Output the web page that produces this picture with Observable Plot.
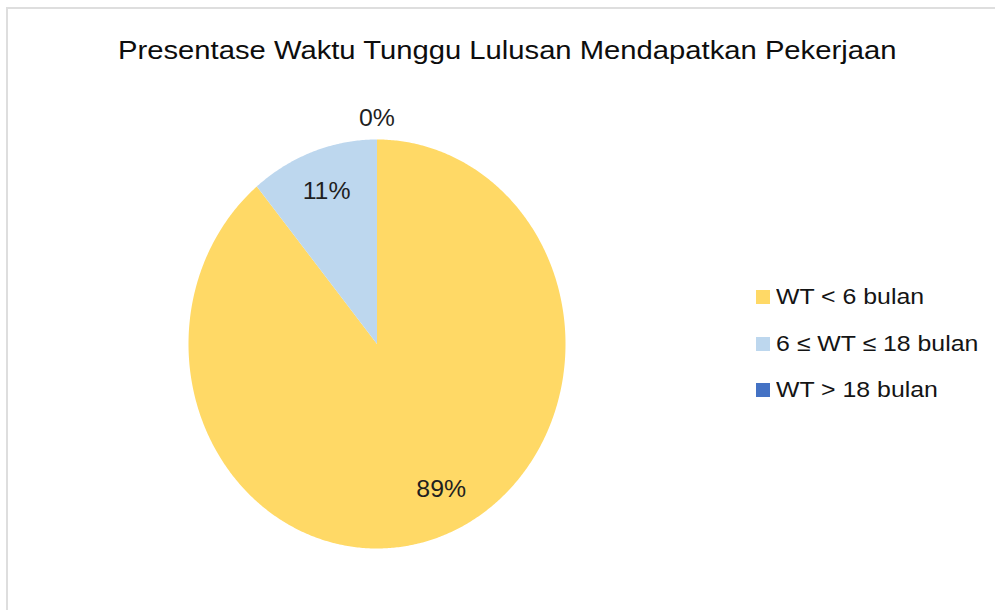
<!DOCTYPE html>
<html><head><meta charset="utf-8">
<script src="https://cdn.jsdelivr.net/npm/d3@7"></script>
<script src="https://cdn.jsdelivr.net/npm/@observablehq/plot@0.6"></script>
<style>
body{margin:0;background:#fff;}
#wrap{position:relative;width:995px;height:610px;overflow:hidden;font-family:"Liberation Sans",Arial,sans-serif;}
#frame{position:absolute;left:6px;top:7px;width:1100px;height:700px;border-top:2px solid #dedede;border-left:2px solid #dedede;}
#chart{position:absolute;left:0;top:0;}
#title{position:absolute;left:118px;top:37px;font-size:25.5px;line-height:26px;white-space:nowrap;color:#0d0d0d;transform-origin:0 0;}
.row{position:absolute;left:756px;height:14px;}
.sw{position:absolute;left:0;top:0;width:14px;height:14px;}
.lt{position:absolute;left:20px;font-size:22px;line-height:22px;top:-4px;white-space:nowrap;color:#141414;transform-origin:0 0;}
</style></head>
<body>
<div id="wrap"><div id="frame"></div><div id="chart"></div><div id="title">Presentase Waktu Tunggu Lulusan Mendapatkan Pekerjaan</div><div id="legend"></div></div>
<script>
const categories = ["WT < 6 bulan", "6 ≤ WT ≤ 18 bulan", "WT > 18 bulan"];
const values = [89, 11, 0];
const labels = ["89%", "11%", "0%"];
const colors = ["#FFD966", "#BDD7EE", "#4472C4"];

const arcs = d3.pie().sort(null).value(d => d)(values);
const slices = [];
arcs.forEach((a, i) => {
  const span = a.endAngle - a.startAngle;
  if (span <= 0) return;
  const pts = [{x: 0, y: 0, i}];
  const n = Math.max(2, Math.ceil(span / (Math.PI / 360)));
  for (let k = 0; k <= n; k++) {
    const t = a.startAngle + span * k / n;
    pts.push({x: Math.sin(t), y: Math.cos(t), i});
  }
  slices.push(pts);
});
const labelData = arcs.map((a, i) => {
  const m = (a.startAngle + a.endAngle) / 2 - (values[i] > 50 ? 0.1 : 0);
  const r = values[i] < 5 ? 1.1 : 0.79;
  return {x: Math.sin(m) * r, y: Math.cos(m) * r, text: labels[i]};
});

const plot = Plot.plot({
  width: 995, height: 610, margin: 0,
  x: {domain: [-1, 1], range: [188, 565], axis: null},
  y: {domain: [-1, 1], range: [548, 139], axis: null},
  style: {background: "transparent", fontFamily: "Liberation Sans, Arial, sans-serif"},
  marks: [
    ...slices.map(pts => Plot.line(pts, {x: "x", y: "y", fill: colors[pts[0].i], stroke: "none", curve: "linear-closed"})),
    Plot.text(labelData, {x: "x", y: "y", text: "text", fontSize: 23, fill: "#1f1f1f"})
  ]
});
document.getElementById("chart").appendChild(plot);
plot.querySelectorAll("text").forEach(t => {
  const w = t.getComputedTextLength();
  t.setAttribute("textLength", w * 1.08);
  t.setAttribute("lengthAdjust", "spacingAndGlyphs");
});

const title = document.getElementById("title");
title.style.transform = `scaleX(${779 / title.offsetWidth})`;

const legend = document.getElementById("legend");
const rowTops = [290, 336.5, 383];
categories.forEach((c, i) => {
  const row = document.createElement("div");
  row.className = "row";
  row.style.top = rowTops[i] + "px";
  row.innerHTML = `<div class="sw" style="background:${colors[i]}"></div><div class="lt">${c.replace("<","&lt;").replace(">","&gt;")}</div>`;
  legend.appendChild(row);
  const lt = row.querySelector(".lt");
  lt.style.transform = `scaleX(1.13)`;
});
</script>
</body></html>
